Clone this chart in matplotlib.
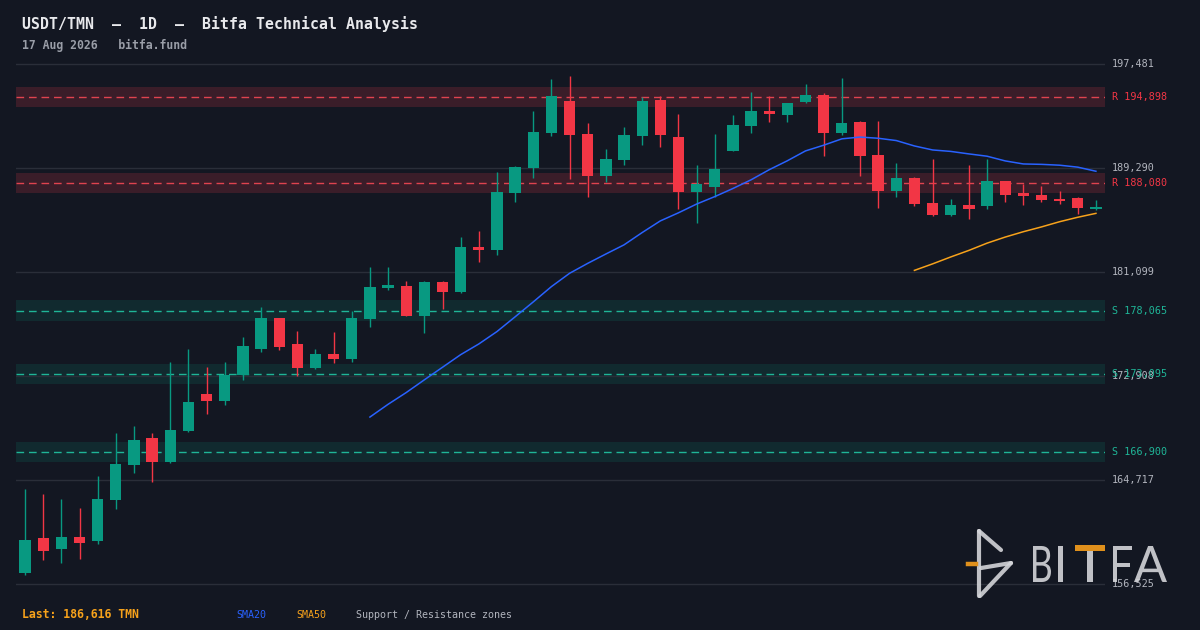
import numpy as np
import pandas as pd
import matplotlib
matplotlib.use("Agg")
import matplotlib.pyplot as plt
from matplotlib.lines import Line2D
from matplotlib.patches import Rectangle, PathPatch
from matplotlib.textpath import TextPath
from matplotlib.font_manager import FontProperties
from matplotlib.transforms import Affine2D, IdentityTransform

# --- daily candles USDT/TMN ---
opens = [157391, 160148, 159281, 160227, 159912, 163141, 165897, 168024, 166134, 168575,
         171490, 170938, 172986, 175034, 177476, 175428, 173537, 174640, 174246, 177397,
         179838, 179996, 177633, 180311, 179523, 183068, 182831, 187321, 189290, 192046,
         194567, 191968, 188660, 189920, 191810, 194646, 191731, 187400, 187793, 190629,
         192598, 193779, 193464, 194488, 195039, 192046, 192913, 190314, 187478, 188502,
         186533, 185588, 186376, 186297, 188266, 187321, 187163, 186848, 186927, 186061]
highs = [164007, 163613, 163220, 162511, 165031, 168418, 168969, 168418, 174010, 175034,
         173616, 174010, 175979, 178342, 177476, 176452, 175034, 176373, 178027, 181492,
         181492, 180390, 180390, 180390, 183855, 184328, 188975, 189447, 193779, 196300,
         196536, 192834, 190786, 192519, 194882, 194961, 193543, 189526, 191968, 193464,
         195276, 194961, 194409, 195906, 195197, 196378, 192992, 192992, 189684, 188581,
         189999, 186848, 189526, 189999, 188266, 188030, 187872, 187478, 187006, 186769]
lows = [157234, 158415, 158179, 158494, 159675, 162432, 165267, 164559, 166055, 168497,
        169914, 170623, 172592, 174798, 174955, 172907, 173459, 173931, 174010, 176767,
        179681, 177633, 176294, 178184, 179445, 181886, 182438, 186612, 188502, 191810,
        188423, 187006, 188187, 189526, 191101, 190944, 186061, 184958, 187006, 190629,
        192046, 192913, 192913, 194409, 190235, 191889, 188660, 186139, 187006, 186297,
        185509, 185509, 185273, 186061, 186612, 186376, 186612, 186454, 185667, 185982]
closes = [159990, 159124, 160227, 159754, 163220, 165976, 167867, 166134, 168654, 170859,
          170938, 172986, 175270, 177476, 175191, 173537, 174640, 174246, 177476, 179917,
          180075, 177633, 180311, 179523, 183068, 182831, 187400, 189369, 192125, 194961,
          191889, 188660, 189999, 191889, 194567, 191889, 187400, 188030, 189211, 192677,
          193779, 193543, 194409, 195039, 192046, 192834, 190235, 187478, 188502, 186454,
          185588, 186376, 186061, 188266, 187163, 187084, 186769, 186691, 186139, 186218]

resistance_levels = [194898, 188080]
support_levels = [178065, 173095, 166900]
zone_half_width = 790

price_ticks = [156525, 164717, 172908, 181099, 189290, 197481]

title = "USDT/TMN  \u2013  1D  \u2013  Bitfa Technical Analysis"
subtitle = "17 Aug 2026   bitfa.fund"
last_label = "Last: 186,616 TMN"

BG = "#131722"
GRID = "#2a2e39"
UP = "#089981"
DOWN = "#f23645"
RES_FILL = "#3a1d29"
SUP_FILL = "#112a2f"
RES_LINE = "#e0434f"
SUP_LINE = "#1fb597"
TXT = "#b2b5be"
MONO = "DejaVu Sans Mono"

W, H = 1200, 630
fig = plt.figure(figsize=(W / 100, H / 100), dpi=100, facecolor=BG)
ax = fig.add_axes([16 / W, (H - 598) / H, 1089 / W, 548 / H])
ax.set_facecolor(BG)
for s in ax.spines.values():
    s.set_visible(False)
ax.set_xticks([])
ax.set_yticks([])

n = len(closes)
x = np.arange(n)
ax.set_xlim(-0.5, n - 0.5)
ax.set_ylim(155422, 198584)

# grid + right labels
for t in price_ticks:
    ax.axhline(t, color=GRID, lw=1, zorder=1)
    ax.text(1.0064, t, f"{t:,}", transform=ax.get_yaxis_transform(),
            color=TXT, fontsize=7.3, family=MONO, va="center", ha="left", clip_on=False)

# support / resistance zones
for lvl in resistance_levels:
    ax.axhspan(lvl - zone_half_width, lvl + zone_half_width, color=RES_FILL, lw=0, zorder=0.5)
    ax.axhline(lvl, color=RES_LINE, lw=1, ls=(0, (5.5, 3.5)), zorder=1.5)
    ax.text(1.0064, lvl, f"R {lvl:,}", transform=ax.get_yaxis_transform(),
            color=DOWN, fontsize=7.3, family=MONO, va="center", ha="left", clip_on=False)
for lvl in support_levels:
    ax.axhspan(lvl - zone_half_width, lvl + zone_half_width, color=SUP_FILL, lw=0, zorder=0.5)
    ax.axhline(lvl, color=SUP_LINE, lw=1, ls=(0, (5.5, 3.5)), zorder=1.5)
    ax.text(1.0064, lvl, f"S {lvl:,}", transform=ax.get_yaxis_transform(),
            color=SUP_LINE, fontsize=7.3, family=MONO, va="center", ha="left", clip_on=False)

# candles
o = np.array(opens, float)
h = np.array(highs, float)
l = np.array(lows, float)
c = np.array(closes, float)
cols = np.where(c >= o, UP, DOWN)
ax.vlines(x, l, h, colors=cols, lw=1, zorder=3)
body_lo = np.minimum(o, c)
body_h = np.maximum(np.abs(c - o), 190)
ax.bar(x, body_h, bottom=body_lo, width=0.62, color=cols, lw=0, zorder=4)

# moving averages
close_s = pd.Series(c)
sma20 = close_s.rolling(20).mean()
sma50 = close_s.rolling(50).mean()
ax.plot(x, sma20, color="#2962ff", lw=1.1, zorder=5)
ax.plot(x, sma50, color="#f7a21b", lw=1.1, zorder=5)

# header texts
fig.text(22 / W, 1 - 24 / H, title, color="#e8e9ec", fontsize=10.7, family=MONO,
         fontweight="bold", va="center", ha="left")
fig.text(22 / W, 1 - 45 / H, subtitle, color="#9a9ea8", fontsize=8.3, family=MONO,
         fontweight="bold", va="center", ha="left")

# footer
fig.text(22 / W, 1 - 614 / H, last_label, color="#f7a21b", fontsize=8.3, family=MONO,
         fontweight="bold", va="center", ha="left")
fig.text(236 / W, 1 - 615 / H, "SMA20", color="#2962ff", fontsize=7.2, family=MONO,
         va="center", ha="left")
fig.text(296 / W, 1 - 615 / H, "SMA50", color="#f7a21b", fontsize=7.2, family=MONO,
         va="center", ha="left")
fig.text(356 / W, 1 - 615 / H, "Support / Resistance zones", color=TXT, fontsize=7.2,
         family=MONO, va="center", ha="left")

# logo (drawn in output pixels, y measured from the top)
LOGO = "#d4d5d9"
ORANGE = "#e0901c"


def fpt(px, py):
    return px / W, 1 - py / H


logo_lines = [
    [(979, 531), (979, 596)],
    [(979, 531), (1001, 550)],
    [(981, 568), (1011, 563)],
    [(1011, 563), (980, 596)],
]
for seg in logo_lines:
    xs, ys = zip(*[fpt(*p) for p in seg])
    fig.add_artist(Line2D(xs, ys, color=LOGO, lw=3.0, solid_capstyle="round",
                          solid_joinstyle="round", alpha=0.9, zorder=10))
xs, ys = zip(fpt(968, 564), fpt(976, 564))
fig.add_artist(Line2D(xs, ys, color=ORANGE, lw=3.2, zorder=10))

fp = FontProperties(family="Lato")
letter_boxes = [("B", 1033, 1051), ("I", 1058, 1063), ("T", 1075, 1105),
                ("F", 1113, 1132), ("A", 1134, 1167)]
top, bottom = 546, 582
for ch, x0, x1 in letter_boxes:
    tp = TextPath((0, 0), ch, size=50, prop=fp)
    ext = tp.get_extents()
    sy = (bottom - top) / ext.height
    sx = (x1 - x0) / ext.width
    tr = Affine2D().translate(-ext.x0, -ext.y0).scale(sx, sy).translate(x0, H - bottom)
    fig.add_artist(PathPatch(tr.transform_path(tp), transform=IdentityTransform(),
                             facecolor=LOGO, lw=0, alpha=0.9, zorder=10))
fig.add_artist(Rectangle(fpt(1075, 551), 30 / W, 6 / H, transform=fig.transFigure,
                         color=ORANGE, lw=0, zorder=11))

fig.savefig("out.png", dpi=100, facecolor=BG)
